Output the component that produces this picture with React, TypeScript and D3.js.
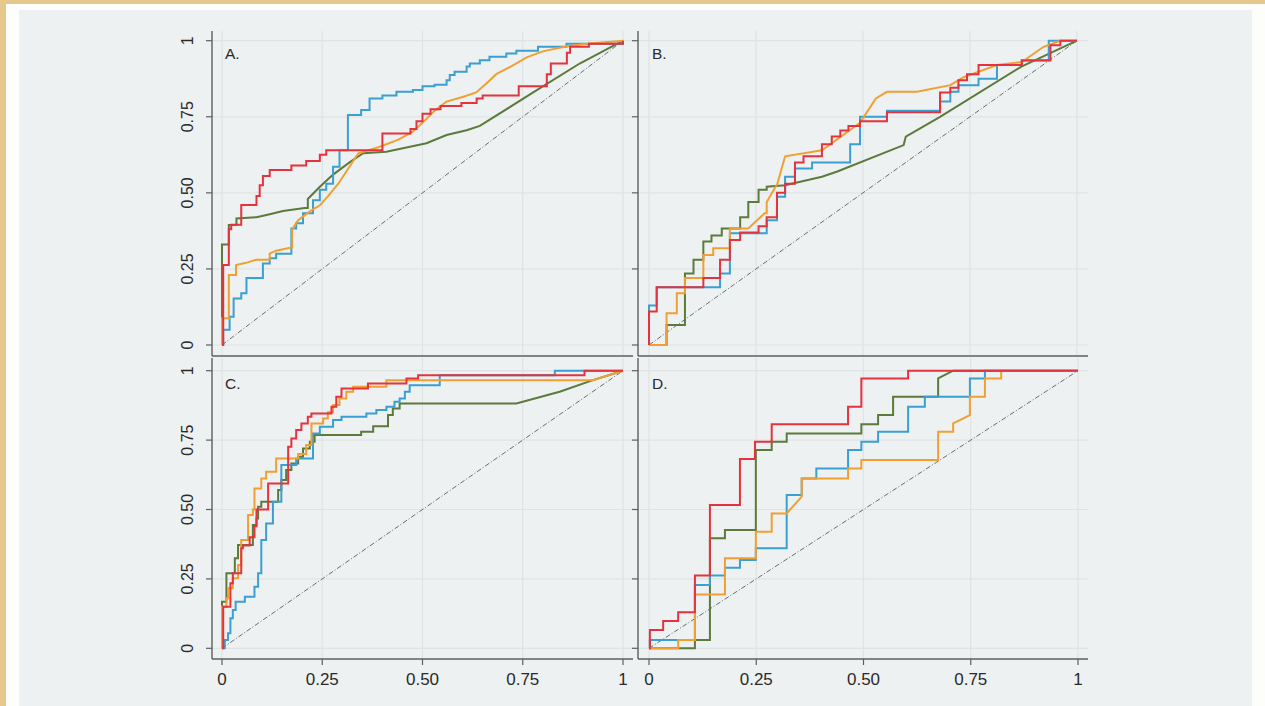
import React from 'react';
import * as d3 from 'd3';

type P = [number, number] | [number, number, number];

// Tick values / labels
const tickValues = [0, 0.25, 0.5, 0.75, 1];
const tickLabels = ['0', '0.25', '0.50', '0.75', '1'];
const panelLetters = ['A.', 'B.', 'C.', 'D.'];
const seriesNames = ['green', 'blue', 'orange', 'red'];

// [fpr, tpr] = step (horizontal then vertical); [fpr, tpr, 1] = straight segment
const A_red: P[] = [[0.003,0.263],[0.017,0.38],[0.023,0.395],[0.048,0.46],[0.086,0.49],[0.094,0.525],[0.102,0.555],[0.119,0.575],[0.173,0.59],[0.21,0.605],[0.244,0.625],[0.26,0.64],[0.40,0.695],[0.47,0.71],[0.485,0.735],[0.50,0.76],[0.52,0.775],[0.545,0.785],[0.597,0.795],[0.635,0.81],[0.65,0.82],[0.74,0.85],[0.81,0.89],[0.82,0.925],[0.86,0.96],[0.868,0.98],[0.915,0.99],[1,1]];
const A_blue: P[] = [[0.003,0.05],[0.019,0.093],[0.029,0.153],[0.048,0.17],[0.061,0.22],[0.102,0.268],[0.119,0.285],[0.135,0.30],[0.173,0.383],[0.185,0.40],[0.202,0.433],[0.227,0.476],[0.244,0.51],[0.26,0.53],[0.277,0.586],[0.293,0.64],[0.314,0.756],[0.347,0.772],[0.368,0.81],[0.40,0.82],[0.435,0.832],[0.476,0.838],[0.50,0.85],[0.53,0.855],[0.56,0.87],[0.568,0.887],[0.58,0.898],[0.61,0.915],[0.618,0.925],[0.643,0.936],[0.667,0.947],[0.709,0.958],[0.734,0.967],[0.788,0.98],[0.859,0.99],[1,1]];
const A_orange: P[] = [[0,0.088],[0.017,0.23],[0.035,0.263],[0.06,0.27,1],[0.085,0.28,1],[0.119,0.30],[0.135,0.31,1],[0.173,0.32,1],[0.175,0.38],[0.19,0.41,1],[0.22,0.44,1],[0.245,0.46,1],[0.265,0.49,1],[0.29,0.53,1],[0.34,0.63,1],[0.39,0.65,1],[0.44,0.675,1],[0.475,0.70,1],[0.50,0.73,1],[0.53,0.77,1],[0.56,0.80,1],[0.60,0.815,1],[0.634,0.83,1],[0.66,0.86,1],[0.684,0.89,1],[0.72,0.915,1],[0.76,0.945,1],[0.80,0.965,1],[0.86,0.982,1],[0.91,0.99,1],[1,1,1]];
const A_green: P[] = [[0,0.33],[0.017,0.394],[0.036,0.416],[0.086,0.42,1],[0.119,0.43,1],[0.152,0.44,1],[0.206,0.45,1],[0.214,0.48],[0.244,0.52,1],[0.277,0.56,1],[0.318,0.60,1],[0.352,0.63,1],[0.41,0.635,1],[0.51,0.663,1],[0.56,0.69,1],[0.61,0.706,1],[0.643,0.72,1],[0.776,0.83,1],[0.892,0.925,1],[1,1,1]];

const B_red: P[] = [[0,0.11],[0.018,0.19],[0.127,0.22],[0.166,0.28],[0.189,0.345],[0.213,0.37],[0.256,0.39],[0.275,0.42],[0.299,0.50],[0.318,0.53],[0.341,0.60],[0.361,0.62],[0.404,0.66],[0.427,0.685],[0.447,0.705],[0.466,0.72],[0.493,0.735],[0.556,0.765],[0.68,0.83],[0.704,0.845],[0.723,0.87],[0.743,0.89],[0.77,0.92],[0.871,0.935],[0.938,0.985],[0.961,1],[1,1]];
const B_blue: P[] = [[0,0.13],[0.018,0.19],[0.166,0.235],[0.189,0.367],[0.275,0.41],[0.299,0.487],[0.318,0.553],[0.341,0.58],[0.381,0.60],[0.47,0.66],[0.493,0.75],[0.556,0.77],[0.68,0.80],[0.704,0.832],[0.723,0.854],[0.77,0.875],[0.813,0.92],[0.871,0.936],[0.934,1],[1,1]];
const B_orange: P[] = [[0.041,0.104],[0.065,0.17],[0.084,0.22],[0.127,0.296],[0.15,0.318],[0.189,0.383],[0.232,0.383],[0.27,0.433,1],[0.275,0.47],[0.30,0.53,1],[0.318,0.62,1],[0.404,0.64,1],[0.493,0.73,1],[0.53,0.81,1],[0.556,0.832,1],[0.626,0.832,1],[0.704,0.854,1],[0.735,0.88,1],[0.813,0.92,1],[0.871,0.93,1],[0.922,0.98,1],[0.961,1,1],[1,1,1]];
const B_green: P[] = [[0.041,0.066],[0.084,0.235],[0.104,0.28],[0.127,0.34],[0.146,0.36],[0.17,0.383],[0.213,0.42],[0.232,0.47],[0.256,0.51],[0.275,0.52],[0.318,0.525,1],[0.404,0.553,1],[0.44,0.57,1],[0.595,0.657,1],[0.60,0.685,1],[0.68,0.75,1],[0.87,0.915,1],[1,1,1]];

const C_red: P[] = [[0.003,0.15],[0.021,0.234],[0.027,0.27],[0.048,0.36],[0.052,0.37],[0.069,0.40],[0.081,0.44],[0.086,0.50],[0.115,0.594],[0.165,0.726],[0.173,0.756],[0.185,0.786],[0.198,0.81],[0.214,0.834],[0.223,0.846],[0.273,0.87],[0.285,0.906],[0.298,0.936],[0.364,0.954],[0.46,0.972],[0.489,0.984],[0.904,1],[1,1]];
const C_blue: P[] = [[0.007,0.03],[0.015,0.054],[0.021,0.108],[0.027,0.138],[0.034,0.168],[0.057,0.186],[0.081,0.222],[0.09,0.27],[0.098,0.39],[0.11,0.45],[0.127,0.528],[0.148,0.66],[0.185,0.684],[0.227,0.774],[0.244,0.798],[0.277,0.822],[0.298,0.834],[0.36,0.846],[0.385,0.858],[0.41,0.87],[0.43,0.888],[0.443,0.90],[0.456,0.924],[0.468,0.948],[0.543,0.984],[0.83,1],[1,1]];
const C_orange: P[] = [[0,0.15],[0.011,0.18],[0.015,0.216],[0.027,0.252],[0.04,0.30],[0.048,0.39],[0.065,0.48],[0.077,0.50],[0.081,0.576],[0.098,0.612],[0.11,0.636],[0.135,0.684],[0.19,0.70],[0.21,0.732],[0.223,0.81],[0.252,0.828],[0.264,0.85],[0.277,0.876],[0.293,0.90],[0.31,0.924],[0.327,0.942],[0.41,0.966],[0.925,0.966,1],[1,1,1]];
const C_green: P[] = [[0,0.168],[0.011,0.27],[0.032,0.324],[0.04,0.372],[0.077,0.444],[0.086,0.468],[0.09,0.51],[0.098,0.528],[0.14,0.57],[0.148,0.606],[0.16,0.642],[0.173,0.666],[0.19,0.69],[0.202,0.72],[0.219,0.744],[0.231,0.768],[0.347,0.78],[0.377,0.80],[0.414,0.84],[0.426,0.864],[0.443,0.882],[0.734,0.882,1],[0.842,0.924,1],[0.925,0.966,1],[1,1,1]];

const D_red: P[] = [[0.002,0.066],[0.033,0.098],[0.068,0.13],[0.107,0.262],[0.142,0.516],[0.212,0.682],[0.247,0.744],[0.286,0.807],[0.464,0.87],[0.495,0.972],[0.604,1],[1,1]];
const D_blue: P[] = [[0.002,0.03],[0.107,0.228],[0.142,0.262],[0.177,0.29],[0.212,0.318],[0.249,0.36],[0.321,0.552],[0.356,0.612],[0.39,0.648],[0.464,0.714],[0.495,0.744],[0.534,0.78],[0.604,0.87],[0.643,0.906],[0.748,0.972],[0.783,1],[1,1]];
const D_orange: P[] = [[0.068,0.03],[0.107,0.194],[0.177,0.324],[0.249,0.42],[0.286,0.486],[0.321,0.486],[0.356,0.546,1],[0.356,0.612],[0.464,0.648],[0.495,0.678],[0.674,0.78],[0.709,0.81],[0.748,0.84,1],[0.748,0.906],[0.783,0.972],[0.821,1],[1,1]];
const D_green: P[] = [[0.107,0.03],[0.142,0.396],[0.177,0.426],[0.249,0.714],[0.286,0.744],[0.321,0.774],[0.495,0.807],[0.534,0.84],[0.569,0.906],[0.674,0.972],[0.709,1,1],[1,1]];

const panelSeries: Record<string, P[]>[] = [
  { green: A_green, blue: A_blue, orange: A_orange, red: A_red },
  { green: B_green, blue: B_blue, orange: B_orange, red: B_red },
  { green: C_green, blue: C_blue, orange: C_orange, red: C_red },
  { green: D_green, blue: D_blue, orange: D_orange, red: D_red },
];

const COLORS: Record<string, string> = {
  red: '#e4323f',
  blue: '#3a9fd2',
  orange: '#f0a032',
  green: '#5b7a3b',
};

const LAYOUT = [
  { x0: 212, x1: 633, y0: 31, y1: 356, rx: [222, 623], ry: [345, 40.7], yLab: true, xLab: false },
  { x0: 638, x1: 1088, y0: 31, y1: 356, rx: [649, 1077], ry: [345, 40.7], yLab: false, xLab: false },
  { x0: 212, x1: 633, y0: 358, y1: 659, rx: [222, 623], ry: [648.3, 370.7], yLab: true, xLab: true },
  { x0: 638, x1: 1088, y0: 358, y1: 659, rx: [649, 1078], ry: [648.3, 370.7], yLab: false, xLab: true },
];

function expand(pts: P[]): [number, number][] {
  const out: [number, number][] = [[0, 0]];
  let py = 0;
  for (const p of pts) {
    if (p.length === 3) out.push([p[0], p[1]]);
    else {
      out.push([p[0], py]);
      out.push([p[0], p[1]]);
    }
    py = p[1];
  }
  return out;
}

const FONT = '"Liberation Sans", Arial, Helvetica, sans-serif';
const AXIS = '#5c5f60';
const TEXT = '#2a2a2a';

function Panel({ idx }: { idx: number }) {
  const L = LAYOUT[idx];
  const x = d3.scaleLinear().domain([0, 1]).range(L.rx);
  const y = d3.scaleLinear().domain([0, 1]).range(L.ry);
  const line = d3.line<[number, number]>().x(d => x(d[0])).y(d => y(d[1]));
  const s = panelSeries[idx];
  return (
    <g>
      {tickValues.map(t => (
        <line key={'gy' + t} x1={L.x0} x2={L.x1} y1={y(t)} y2={y(t)} stroke="#dfe3e3" strokeWidth={1.2} />
      ))}
      {tickValues.map(t => (
        <line key={'gx' + t} x1={x(t)} x2={x(t)} y1={L.y0} y2={L.y1} stroke="#dfe3e3" strokeWidth={1.2} />
      ))}
      <line x1={x(0)} y1={y(0)} x2={x(1)} y2={y(1)} stroke="#6a6d6e" strokeWidth={1} strokeDasharray="5,2,1,2" />
      {seriesNames.map(n => (
        <path key={n} d={line(expand(s[n])) || ''} fill="none" stroke={COLORS[n]} strokeWidth={2} strokeLinejoin="miter" />
      ))}
      <line x1={L.x0} x2={L.x0} y1={L.y0} y2={L.y1} stroke={AXIS} strokeWidth={1.4} />
      <line x1={L.x0} x2={L.x1} y1={L.y1} y2={L.y1} stroke={AXIS} strokeWidth={1.4} />
      {tickValues.map(t => (
        <line key={'ty' + t} x1={L.x0 - 6} x2={L.x0} y1={y(t)} y2={y(t)} stroke={AXIS} strokeWidth={1.2} />
      ))}
      {L.xLab && tickValues.map(t => (
        <line key={'tx' + t} x1={x(t)} x2={x(t)} y1={L.y1} y2={L.y1 + 6} stroke={AXIS} strokeWidth={1.2} />
      ))}
      {L.yLab && tickValues.map((t, i) => (
        <text key={'ly' + t} transform={`translate(${L.x0 - 19},${y(t)}) rotate(-90)`} textAnchor="middle"
          fontFamily={FONT} fontSize={16} fill={TEXT}>{tickLabels[i]}</text>
      ))}
      {L.xLab && tickValues.map((t, i) => (
        <text key={'lx' + t} x={x(t)} y={L.y1 + 26} textAnchor="middle"
          fontFamily={FONT} fontSize={17} fill={TEXT}>{tickLabels[i]}</text>
      ))}
      <text x={L.rx[0] + 3} y={L.ry[1] + 18} fontFamily={FONT} fontSize={15.5} fill={TEXT}>{panelLetters[idx]}</text>
    </g>
  );
}

export default function App() {
  return (
    <svg width={1265} height={706} style={{ position: 'absolute', left: 0, top: 0 }}>
      <rect x={0} y={0} width={1265} height={706} fill="#e6c78c" />
      <rect x={6} y={4} width={1259} height={702} fill="#fdfdfb" />
      <rect x={19} y={10} width={1233} height={696} fill="#eef1f1" />
      {LAYOUT.map((_, i) => <Panel key={i} idx={i} />)}
    </svg>
  );
}
